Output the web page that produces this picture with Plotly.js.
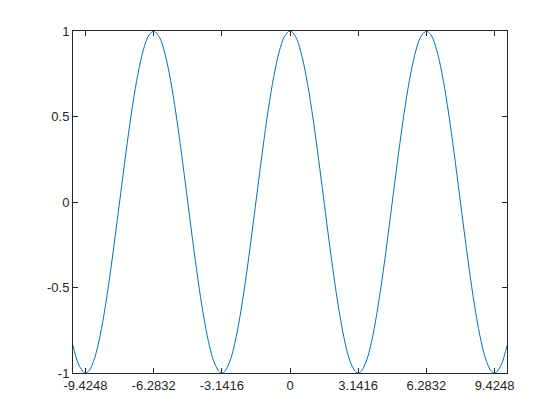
<!DOCTYPE html>
<html>
<head>
<meta charset="utf-8">
<script src="https://cdn.plot.ly/plotly-3.0.1.min.js"></script>
<style>html,body{margin:0;padding:0;background:#fff;}#plot{width:560px;height:420px;}</style>
</head>
<body>
<div id="plot"></div>
<script>
// Values
var xValues = [-10, -9.75, -9.5, -9.4248, -9.25, -9, -8.75, -8.5, -8.25, -8, -7.75, -7.5, -7.25, -7, -6.75, -6.5, -6.2832, -6.25, -6, -5.75, -5.5, -5.25, -5, -4.75, -4.5, -4.25, -4, -3.75, -3.5, -3.25, -3.1416, -3, -2.75, -2.5, -2.25, -2, -1.75, -1.5, -1.25, -1, -0.75, -0.5, -0.25, 0, 0.25, 0.5, 0.75, 1, 1.25, 1.5, 1.75, 2, 2.25, 2.5, 2.75, 3, 3.1416, 3.25, 3.5, 3.75, 4, 4.25, 4.5, 4.75, 5, 5.25, 5.5, 5.75, 6, 6.25, 6.2832, 6.5, 6.75, 7, 7.25, 7.5, 7.75, 8, 8.25, 8.5, 8.75, 9, 9.25, 9.4248, 9.5, 9.75, 10];
var yValues = [-0.8391, -0.9476, -0.9972, -1, -0.9847, -0.9111, -0.7808, -0.6020, -0.3857, -0.1455, 0.1038, 0.3466, 0.5679, 0.7539, 0.8930, 0.9766, 1, 0.9994, 0.9602, 0.8612, 0.7087, 0.5121, 0.2837, 0.0376, -0.2108, -0.4461, -0.6536, -0.8206, -0.9365, -0.9941, -1, -0.9900, -0.9243, -0.8011, -0.6282, -0.4161, -0.1782, 0.0707, 0.3153, 0.5403, 0.7317, 0.8776, 0.9689, 1, 0.9689, 0.8776, 0.7317, 0.5403, 0.3153, 0.0707, -0.1782, -0.4161, -0.6282, -0.8011, -0.9243, -0.9900, -1, -0.9941, -0.9365, -0.8206, -0.6536, -0.4461, -0.2108, 0.0376, 0.2837, 0.5121, 0.7087, 0.8612, 0.9602, 0.9994, 1, 0.9766, 0.8930, 0.7539, 0.5679, 0.3466, 0.1038, -0.1455, -0.3857, -0.6020, -0.7808, -0.9111, -0.9847, -1, -0.9972, -0.9476, -0.8391];
var xTickVals = [-9.4248, -6.2832, -3.1416, 0, 3.1416, 6.2832, 9.4248];
var xTickText = ["-9.4248", "-6.2832", "-3.1416", "0", "3.1416", "6.2832", "9.4248"];
var yTickVals = [-1, -0.5, 0, 0.5, 1];
var yTickText = ["-1", "-0.5", "0", "0.5", "1"];

var axisCommon = {
  showgrid: false,
  zeroline: false,
  showline: true,
  mirror: 'ticks',
  linecolor: '#262626',
  linewidth: 1,
  ticks: 'inside',
  ticklen: 5,
  tickwidth: 1,
  tickcolor: '#262626',
  tickfont: {family: 'Liberation Sans, Arial, sans-serif', size: 13, color: '#262626'},
  tickmode: 'array',
  fixedrange: true
};

var trace = {
  x: xValues,
  y: yValues,
  type: 'scatter',
  mode: 'lines',
  line: {color: '#0072BD', width: 1, shape: 'spline', smoothing: 1},
  hoverinfo: 'skip'
};

var layout = Object.assign({
  width: 560,
  height: 420,
  margin: {l: 73, r: 53, t: 31, b: 47, pad: 0},
  paper_bgcolor: '#ffffff',
  plot_bgcolor: '#ffffff',
  showlegend: false,
  xaxis: Object.assign({}, axisCommon, {range: [-10, 10], tickvals: xTickVals, ticktext: xTickText}),
  yaxis: Object.assign({}, axisCommon, {range: [-1, 1], tickvals: yTickVals, ticktext: yTickText})
});

Plotly.newPlot('plot', [trace], layout, {staticPlot: true, displayModeBar: false});
</script>
</body>
</html>
